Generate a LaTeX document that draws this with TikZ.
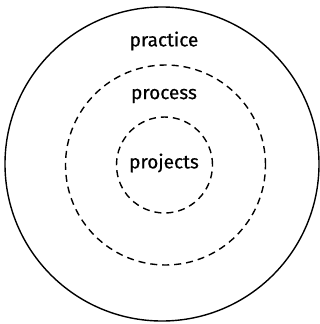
\documentclass[tikz,border=0pt]{standalone}
\usepackage{fontspec}
\setmainfont{Fira Sans}
\newfontfamily\lblfont{Fira Sans}[FakeBold=0.5]
\usetikzlibrary{positioning}

\begin{document}
\begin{tikzpicture}[
    x=1pt,y=-1pt,
    ring/.style={circle,draw=black,line width=1.4pt,inner sep=0pt},
    dring/.style={ring,dash pattern=on 7pt off 5pt},
    lbl/.style={font=\lblfont\fontsize{19}{21}\selectfont,inner sep=0pt}
  ]
    \useasboundingbox (0,0) rectangle (320,324);
    \node[ring,minimum size=314pt] (practiceRing) at (162,164) {};
    \node[dring,minimum size=200pt] (processRing) at (165.5,165) {};
    \node[dring,minimum size=96pt] (projectsRing) at (164.5,165) {};
    \node[lbl] (practice) at (164,41) {practice};
    \node[lbl] (process) at (164,96) {process};
    \node[lbl] (projects) at (164,163) {projects};
  \end{tikzpicture}
\end{document}
